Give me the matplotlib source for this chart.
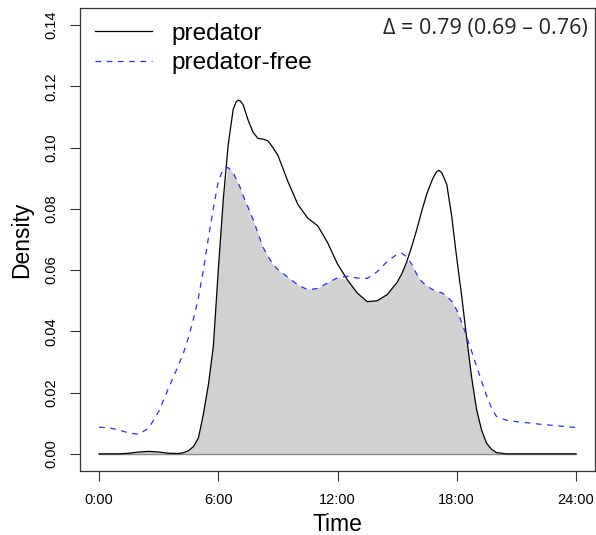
import numpy as np
import matplotlib
matplotlib.use("Agg")
import matplotlib.pyplot as plt

# ---- data ----
hours = [0, 0.5, 1, 1.5, 2, 2.5, 3, 3.5, 4, 4.25, 4.5, 4.75, 5, 5.25, 5.5, 5.75,
         6, 6.25, 6.5, 6.75, 6.9, 7, 7.1, 7.25, 7.5, 7.75, 8, 8.25, 8.5, 8.75, 9, 9.5, 10,
         10.5, 11, 11.5, 12, 12.5, 13, 13.5, 14, 14.5, 15, 15.25, 15.5, 15.75, 16,
         16.25, 16.5, 16.75, 16.9, 17, 17.1, 17.25, 17.5, 17.75, 18, 18.25, 18.5, 18.75, 19,
         19.25, 19.5, 19.75, 20, 20.5, 21, 21.5, 22, 22.5, 23, 23.5, 24]

predator = [0.0000, 0.0000, 0.0000, 0.0002, 0.0006, 0.0008, 0.0006, 0.0002, 0.0001,
            0.0004, 0.0010, 0.0024, 0.0052, 0.0130, 0.0225, 0.0350,
            0.0600, 0.0830, 0.1010, 0.1125, 0.1150, 0.1155, 0.1153, 0.1140, 0.1090, 0.1050,
            0.1030, 0.1028, 0.1022, 0.1000, 0.0975, 0.0890, 0.0815,
            0.0770, 0.0745, 0.0690, 0.0620, 0.0568, 0.0525, 0.0497, 0.0500,
            0.0520, 0.0560, 0.0590, 0.0630, 0.0680, 0.0735,
            0.0795, 0.0850, 0.0892, 0.0912, 0.0922, 0.0926, 0.0918, 0.0880, 0.0775, 0.0640,
            0.0515, 0.0380, 0.0250, 0.0145,
            0.0078, 0.0035, 0.0015, 0.0004, 0.0000, 0.0000, 0.0000, 0.0000,
            0.0000, 0.0000, 0.0000, 0.0000]

predator_free = [0.0087, 0.0085, 0.0078, 0.0068, 0.0064, 0.0084, 0.0138, 0.0215, 0.0290,
                 0.0330, 0.0380, 0.0440, 0.0510, 0.0600, 0.0705, 0.0800,
                 0.0890, 0.0930, 0.0935, 0.0918, 0.0898, 0.0885, 0.0870, 0.0843, 0.0805, 0.0766,
                 0.0720, 0.0675, 0.0645, 0.0620, 0.0602, 0.0577, 0.0552,
                 0.0536, 0.0540, 0.0558, 0.0575, 0.0580, 0.0574, 0.0573, 0.0595,
                 0.0628, 0.0652, 0.0655, 0.0642, 0.0618, 0.0585,
                 0.0562, 0.0548, 0.0538, 0.0533, 0.0530, 0.0528, 0.0526, 0.0515, 0.0498, 0.0470,
                 0.0430, 0.0383, 0.0335, 0.0285,
                 0.0238, 0.0190, 0.0150, 0.0122, 0.0110, 0.0105, 0.0102, 0.0098,
                 0.0095, 0.0092, 0.0089, 0.0086]

series_labels = ["predator", "predator-free"]
xtick_vals = [0, 6, 12, 18, 24]
xtick_labels = ["0:00", "6:00", "12:00", "18:00", "24:00"]
ytick_vals = [0.00, 0.02, 0.04, 0.06, 0.08, 0.10, 0.12, 0.14]
overlap_text = "\u0394 = 0.79 (0.69 \u2013 0.76)"

# ---- plot ----
plt.rcParams['font.family'] = ['Liberation Sans', 'DejaVu Sans']
fig = plt.figure(figsize=(5.96, 5.35), dpi=100)
ax = fig.add_axes([80/596, 1 - 471/535, 515/596, 463/535])

h = np.array(hours)
p = np.array(predator)
f = np.array(predator_free)
ov = np.minimum(p, f)

ax.fill_between(h, 0, ov, facecolor='#d1d1d1', edgecolor='none', zorder=1)
ax.plot([h[0], h[-1]], [0, 0], color='#888888', lw=1.0, zorder=2)
ax.plot(h, p, color='black', lw=0.9, zorder=3, label=series_labels[0])
ax.plot(h, f, color='#2233ee', lw=0.9, ls=(0, (4.5, 4.5)), zorder=3,
        label=series_labels[1])

ax.set_xlim(-0.96, 24.96)
ax.set_ylim(-0.0056, 0.1456)
ax.set_xticks(xtick_vals)
ax.set_xticklabels(xtick_labels)
ax.set_yticks(ytick_vals)
ax.set_yticklabels([f"{v:.2f}" for v in ytick_vals], rotation=90, va='center')
ax.tick_params(axis='both', direction='out', length=7.5, width=0.8,
               labelsize=10.5, color='#333333')
ax.tick_params(axis='x', pad=8)
ax.tick_params(axis='y', pad=8)
for s in ax.spines.values():
    s.set_linewidth(0.9)
    s.set_color('#333333')

ax.set_xlabel("Time", fontsize=16.5, labelpad=5)
ax.set_ylabel("Density", fontsize=16.5, labelpad=8)

leg = ax.legend(loc='upper left', frameon=False, fontsize=17.6,
                handlelength=2.35, handletextpad=0.8, labelspacing=0.30,
                borderaxespad=0.4, borderpad=0.2)

ax.text(0.985, 0.955, overlap_text, transform=ax.transAxes, ha='right',
        va='center', fontsize=15.5, family=['Open Sans', 'DejaVu Sans'],
        color='#222222')

fig.savefig("out.png", dpi=100)
